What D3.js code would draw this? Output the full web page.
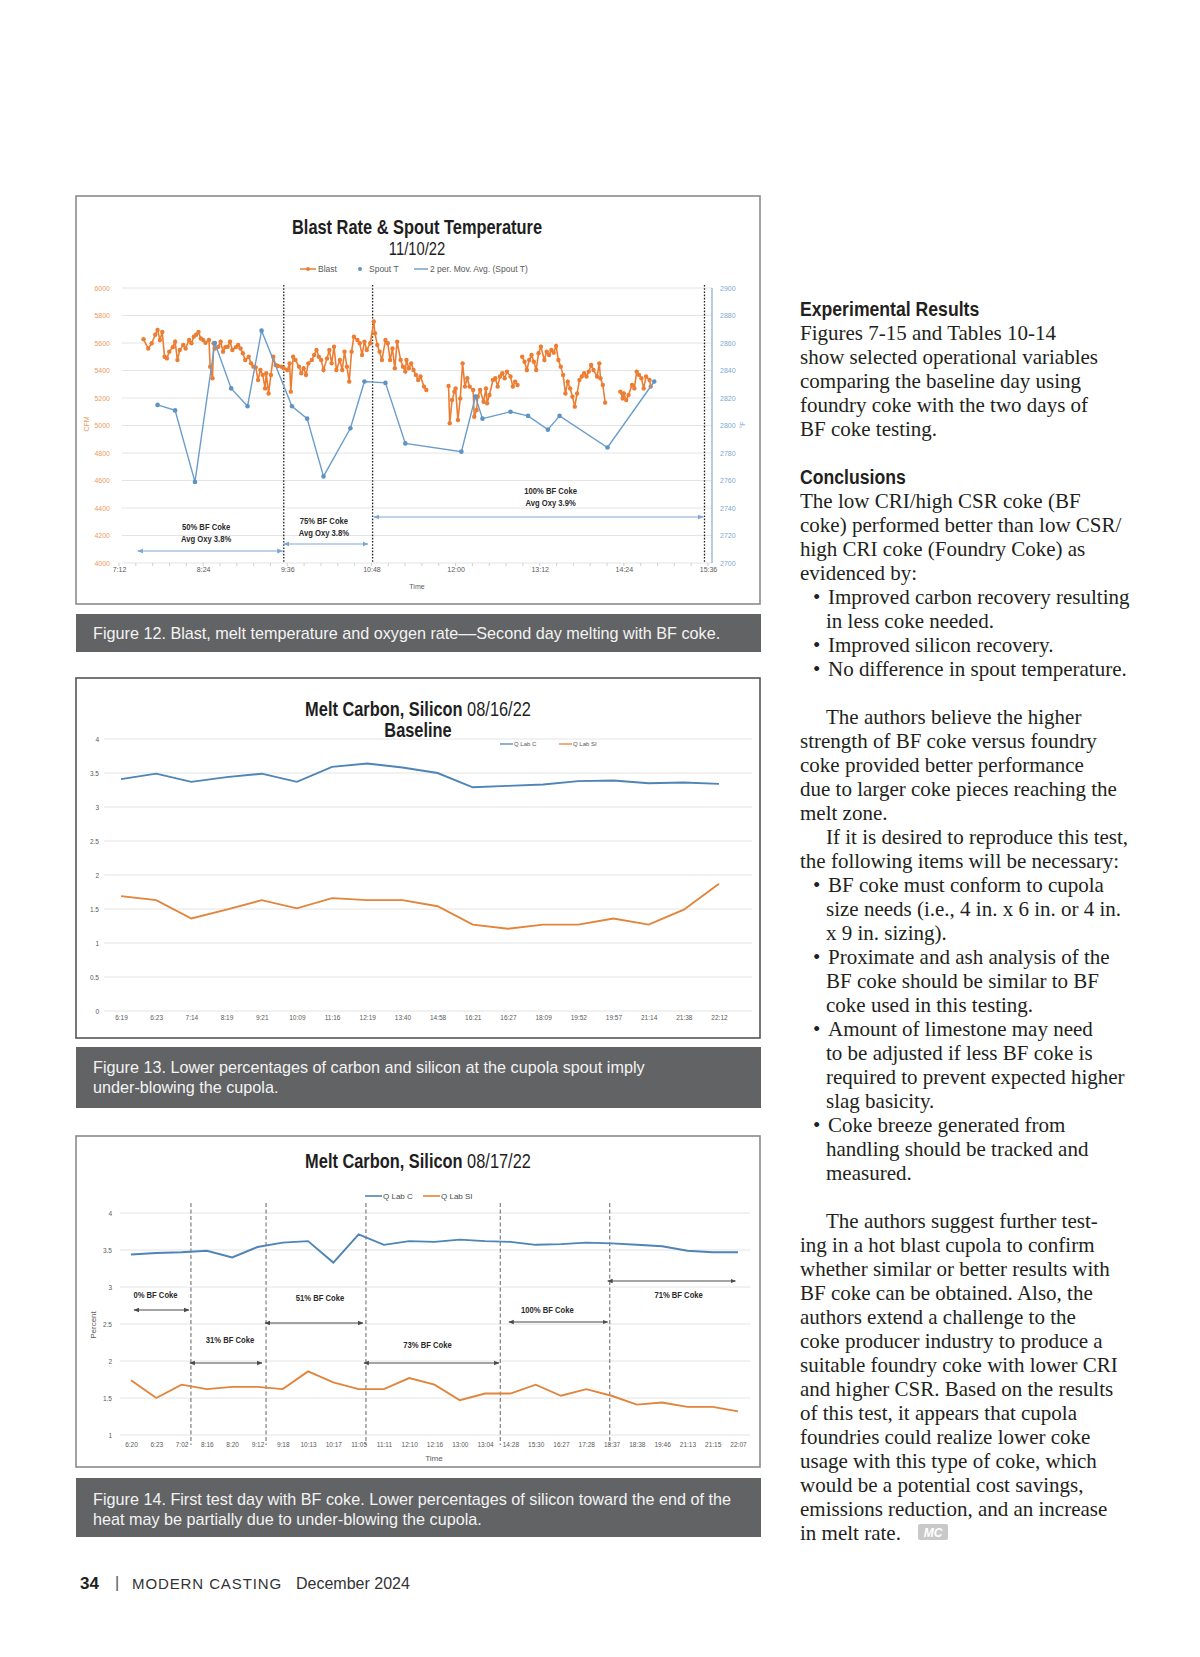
<!DOCTYPE html>
<html>
<head>
<meta charset="utf-8">
<script src="https://cdn.jsdelivr.net/npm/d3@7"></script>
<style>
  body { margin: 0; background: #fff; }
  text { font-family: "Liberation Sans", Arial, sans-serif; }
  .serif { font-family: "Liberation Serif", "Times New Roman", serif; }
</style>
</head>
<body>
<div id="page"></div>
<script>
// ---------- Figure 12 : Blast Rate & Spout Temperature 11/10/22 ----------
var blastTime = ["7:33","7:37","7:40","7:43","7:45","7:47","7:49","7:51","7:53","7:55","7:58","8:00","8:02","8:04","8:07","8:09",
  "8:12","8:14","8:16","8:18","8:20","8:22","8:24","8:26","8:29","8:30","8:32","8:33","8:34","8:37","8:39","8:41","8:43","8:45",
  "8:47","8:49","8:52","8:54","8:56","8:58","9:00","9:03","9:05","9:07","9:09","9:11","9:13","9:15","9:17","9:18","9:20","9:22",
  "9:24","9:26","9:28","9:31","9:33","9:36","9:38","9:39","9:41","9:43","9:46","9:48","9:50","9:52","9:54","9:57","9:59","10:01",
  "10:03","10:05","10:07","10:10","10:12","10:14","10:16","10:18","10:21","10:23","10:25","10:27","10:29","10:31","10:33","10:36",
  "10:38","10:40","10:42","10:44","10:47","10:50","10:51","10:53","10:55","10:57","11:00","11:02","11:04","11:06","11:08","11:10",
  "11:13","11:15","11:17","11:18","11:20","11:22","11:24","11:26","11:28","11:30","11:33","11:35","11:45",
  "11:54","11:55","11:57","11:59","12:00","12:02","12:04","12:06","12:08","12:10","12:12","12:15","12:16","12:18","12:19","12:21",
  "12:24","12:26","12:27","12:29","12:32","12:34","12:36","12:38","12:40","12:42","12:44","12:47","12:49","12:51","12:53","12:55",
  "12:57","12:59","13:01","13:03","13:05","13:07","13:09","13:11","13:13","13:16","13:18","13:20","13:22","13:24","13:26","13:28",
  "13:30","13:32","13:34","13:36","13:38","13:40","13:42","13:44","13:46","13:48","13:50","13:52","13:54","13:56","13:58","14:01",
  "14:03","14:04","14:06","14:08","14:15",
  "14:21","14:23","14:24","14:26","14:28","14:31","14:33","14:35","14:37","14:39","14:41","14:43","14:46","14:47"];
var blastCfm = [5627,5560,5598,5660,5695,5622,5680,5500,5488,5537,5570,5610,5476,5549,5585,5560,
  5622,5598,5646,5660,5680,5633,5622,5602,5622,5428,5344,5598,5560,5573,5610,5537,5570,5573,
  5610,5549,5570,5585,5560,5525,5476,5500,5452,5428,5423,5331,5404,5368,5270,5380,5233,5368,
  5500,5440,5433,5428,5416,5404,5452,5246,5500,5476,5428,5380,5416,5368,5452,5476,5513,5549,
  5500,5476,5404,5488,5549,5452,5573,5404,5476,5404,5537,5428,5319,5537,5646,5622,
  5598,5513,5610,5549,5598,5756,5671,5585,5537,5476,5622,5598,5476,5560,5416,5610,
  5476,5428,5392,5476,5416,5452,5404,5368,5331,5356,5283,5258,null,
  5287,5016,5185,5246,5270,5040,5197,5452,5283,5344,5283,5258,5064,5113,5210,5258,
  5173,5270,5161,5222,5331,5344,5283,5356,5380,5344,5392,5356,5283,5319,5295,null,
  5500,5464,5404,5476,5513,5464,5404,5525,5573,5476,5537,5513,5549,5530,5578,5476,
  5428,5368,5233,5319,5270,5210,5137,5233,5331,5356,5380,5356,5392,5440,5404,5356,
  5452,5344,5295,5166,null,
  5246,5197,5233,5185,5222,5295,5270,5392,5368,5344,5270,5356,5331,5283];
var spoutTime = ["7:45","8:00","8:17","8:34","8:48","9:02","9:14","9:40","9:53","10:07","10:30","10:42",
  "11:00","11:17","12:05","12:17","12:23","12:47","13:02","13:19","13:29","14:10","14:50"];
var spoutTemp = [2815,2811,2759,2860,2827,2814,2869,2814,2805,2763,2798,2832,
  2831,2787,2781,2821,2805,2810,2807,2797,2807,2784,2832];
var cfmTicks = [4000,4200,4400,4600,4800,5000,5200,5400,5600,5800,6000];
var tempTicks = [2700,2720,2740,2760,2780,2800,2820,2840,2860,2880,2900];
var timeTicks = ["7:12","8:24","9:36","10:48","12:00","13:12","14:24","15:36"];
var cokeChangeTimes = ["9:33","10:49","15:33"];
var blastPhaseLabel = ["50% BF Coke","75% BF Coke","100% BF Coke"];
var blastPhaseOxy = ["Avg Oxy 3.8%","Avg Oxy 3.8%","Avg Oxy 3.9%"];
var blastPhaseStart = ["7:28","9:33","10:50"];
var blastPhaseEnd = ["9:32","10:45","15:32"];

// ---------- Figure 13 : Melt Carbon, Silicon 08/16/22 Baseline ----------
var baseTimes = ["6:19","6:23","7:14","8:19","9:21","10:09","11:16","12:19","13:40","14:58","16:21","16:27","18:09","19:52","19:57","21:14","21:38","22:12"];
var baseC = [3.41,3.49,3.37,3.44,3.49,3.37,3.59,3.64,3.58,3.50,3.29,3.31,3.33,3.38,3.39,3.35,3.36,3.34];
var baseSi = [1.69,1.63,1.36,1.49,1.63,1.51,1.66,1.63,1.63,1.54,1.27,1.21,1.27,1.27,1.36,1.27,1.49,1.87];
var baseTicks = [0,0.5,1,1.5,2,2.5,3,3.5,4];

// ---------- Figure 14 : Melt Carbon, Silicon 08/17/22 ----------
var testTimes = ["6:20","6:23","7:02","8:16","8:20","9:12","9:18","10:13","10:17","11:05","11:11","12:10","12:16","13:00","13:04",
  "14:28","15:30","16:27","17:28","18:37","18:38","19:46","21:13","21:15","22:07"];
var testC = [3.44,3.46,3.47,3.49,3.40,3.54,3.60,3.62,3.33,3.71,3.57,3.62,3.61,3.64,3.62,3.61,3.57,3.58,3.60,3.59,3.57,3.55,3.49,3.47,3.47];
var testSi = [1.74,1.50,1.68,1.62,1.65,1.65,1.62,1.86,1.71,1.62,1.62,1.77,1.68,1.47,1.56,1.56,1.68,1.53,1.62,1.53,1.41,1.44,1.38,1.38,1.32];
var testTicks = [1,1.5,2,2.5,3,3.5,4];
var testChanges = [2.37,5.34,9.29,14.6,18.93];
var testPhaseLabel = ["0% BF Coke","31% BF Coke","51% BF Coke","73% BF Coke","100% BF Coke","71% BF Coke"];
var testPhaseStart = [0.12,2.33,5.3,9.21,14.94,18.85];
var testPhaseEnd = [2.29,5.18,9.17,14.55,18.85,23.9];

var orange = "#ec7e33", blue = "#5f93c4", lineBlue = "#4f84b6", lineOrange = "#e2843a";
var gridC = "#e4e4e4", tickC = "#5a5a5a";

var svg = d3.select("#page").append("svg").attr("width", 1200).attr("height", 1657);
var defs = svg.append("defs");
function addArrow(id, color) {
  defs.append("marker").attr("id", id).attr("viewBox", "0 0 10 10")
    .attr("refX", 9).attr("refY", 5).attr("markerWidth", 5).attr("markerHeight", 5)
    .attr("orient", "auto-start-reverse")
    .append("path").attr("d", "M0,1L10,5L0,9Z").attr("fill", color);
}
addArrow("arrBlue", "#7ea8cf");
addArrow("arrGrey", "#4a4a4a");

// condensed text: no narrow font installed, so squeeze Liberation Sans horizontally
function cond(parent, x, y, size, bold, anchor, str, sx) {
  var t = parent.append("text")
    .attr("transform", "translate(" + x + "," + y + ") scale(" + (sx || 0.82) + ",1)")
    .attr("text-anchor", anchor).style("font-size", size + "px");
  if (bold) t.style("font-weight", "bold");
  if (str) t.text(str);
  return t;
}

function box(y0, y1, stroke) {
  svg.append("rect").attr("x", 76).attr("y", y0).attr("width", 684).attr("height", y1 - y0)
    .attr("fill", "#fff").attr("stroke", stroke).attr("stroke-width", 1.6);
}
function caption(y0, y1, lines, ys) {
  svg.append("rect").attr("x", 76).attr("y", y0).attr("width", 685).attr("height", y1 - y0).attr("fill", "#626365");
  lines.forEach(function(t, i) {
    svg.append("text").attr("x", 93).attr("y", ys[i]).attr("fill", "#f3f3f3")
      .style("font-size", "16.2px").text(t);
  });
}
function tickStyle(g, color, size) {
  g.select(".domain").remove();
  g.selectAll("text").attr("fill", color).style("font-size", size + "px")
    .style("font-family", "Liberation Sans, Arial, sans-serif");
}

// ======================= Figure 12 =======================
box(196, 604, "#8d8d8d");
var pt = d3.timeParse("%H:%M");
var x1 = d3.scaleTime().domain([pt("7:12"), pt("15:36")]).range([119, 708]);
var yCfm = d3.scaleLinear().domain([4000, 6000]).range([563, 288]);
var yTemp = d3.scaleLinear().domain([2700, 2900]).range([563, 288]);
var c1 = svg.append("g");

cond(c1, 417, 234, 20, true, "middle", "Blast Rate & Spout Temperature").attr("fill", "#1e1e1e");
cond(c1, 417, 255, 18, false, "middle", "11/10/22").attr("fill", "#1e1e1e");

// legend
var lg1 = c1.append("g").style("font-size", "8.5px").attr("fill", "#595959");
lg1.append("line").attr("x1", 300).attr("x2", 316).attr("y1", 269).attr("y2", 269).attr("stroke", orange).attr("stroke-width", 1.5);
lg1.append("circle").attr("cx", 308).attr("cy", 269).attr("r", 2).attr("fill", orange);
lg1.append("text").attr("x", 318).attr("y", 272).text("Blast");
lg1.append("circle").attr("cx", 360).attr("cy", 269).attr("r", 2).attr("fill", blue);
lg1.append("text").attr("x", 369).attr("y", 272).text("Spout T");
lg1.append("line").attr("x1", 414).attr("x2", 428).attr("y1", 269).attr("y2", 269).attr("stroke", blue).attr("stroke-width", 1.3);
lg1.append("text").attr("x", 430).attr("y", 272).text("2 per. Mov. Avg. (Spout T)");

// grid
c1.selectAll(".grid1").data(cfmTicks).enter().append("line")
  .attr("x1", 122).attr("x2", 712).attr("y1", d => yCfm(d)).attr("y2", d => yCfm(d))
  .attr("stroke", gridC).attr("stroke-width", 1);
// minor ticks on time axis (5 per labelled interval)
var t0 = pt("7:12").getTime();
c1.selectAll(".mt").data(d3.range(0, 36)).enter().append("line")
  .attr("x1", d => x1(new Date(t0 + d * 14.4 * 60000))).attr("x2", d => x1(new Date(t0 + d * 14.4 * 60000)))
  .attr("y1", 563).attr("y2", 566).attr("stroke", "#cfcfcf");

// axes
c1.append("g").attr("transform", "translate(110,0)")
  .call(d3.axisLeft(yCfm).tickValues(cfmTicks).tickSize(0).tickPadding(0).tickFormat(d3.format("d")))
  .call(g => tickStyle(g, "#ea9c62", 7));
c1.append("g").attr("transform", "translate(720,0)")
  .call(d3.axisRight(yTemp).tickValues(tempTicks).tickSize(0).tickPadding(0).tickFormat(d3.format("d")))
  .call(g => tickStyle(g, "#7ea8cf", 7));
c1.append("line").attr("x1", 712).attr("x2", 712).attr("y1", yTemp(2900)).attr("y2", yTemp(2700))
  .attr("stroke", "#8fb4d8").attr("stroke-width", 1.3);
c1.append("g").attr("transform", "translate(0,565)")
  .call(d3.axisBottom(x1).tickValues(timeTicks.map(pt)).tickFormat(d3.timeFormat("%-H:%M")).tickSize(0).tickPadding(2))
  .call(g => tickStyle(g, tickC, 7));
c1.append("text").attr("x", 417).attr("y", 589).attr("text-anchor", "middle").style("font-size", "7px").attr("fill", tickC).text("Time");
c1.append("text").attr("transform", "translate(89,424) rotate(-90)").attr("text-anchor", "middle")
  .style("font-size", "7px").attr("fill", "#ea9c62").text("CFM");
c1.append("text").attr("transform", "translate(745,425) rotate(-90)").attr("text-anchor", "middle")
  .style("font-size", "7px").attr("fill", "#7ea8cf").text("°F");

// coke change markers
c1.selectAll(".chg").data(cokeChangeTimes).enter().append("line")
  .attr("x1", d => x1(pt(d))).attr("x2", d => x1(pt(d))).attr("y1", 285).attr("y2", 563)
  .attr("stroke", "#222").attr("stroke-width", 1.3).attr("stroke-dasharray", "1.6,1.6");

// phase arrows
var ph1ArrowY = [551, 544, 517], ph1TextY = [527, 521, 491], ph1Dx = [-4, -2, 12];
blastPhaseLabel.forEach(function(lab, i) {
  var a = x1(pt(blastPhaseStart[i])), b = x1(pt(blastPhaseEnd[i]));
  c1.append("line").attr("x1", a).attr("x2", b).attr("y1", ph1ArrowY[i]).attr("y2", ph1ArrowY[i])
    .attr("stroke", "#7ea8cf").attr("stroke-width", 1.2)
    .attr("marker-start", "url(#arrBlue)").attr("marker-end", "url(#arrBlue)");
  var cx = (a + b) / 2 + ph1Dx[i];
  cond(c1, cx, ph1TextY[i] + 3, 9, true, "middle", lab, 0.85).attr("fill", "#2b2b2b");
  cond(c1, cx, ph1TextY[i] + 15, 9, true, "middle", blastPhaseOxy[i], 0.85).attr("fill", "#2b2b2b");
});

// blast series
var blastData = blastTime.map((t, i) => ({ t: pt(t), v: blastCfm[i] }));
c1.append("path").datum(blastData)
  .attr("d", d3.line().defined(d => d.v != null).x(d => x1(d.t)).y(d => yCfm(d.v)))
  .attr("fill", "none").attr("stroke", orange).attr("stroke-width", 1.6);
c1.selectAll(".bm").data(blastData.filter(d => d.v != null)).enter().append("circle")
  .attr("cx", d => x1(d.t)).attr("cy", d => yCfm(d.v)).attr("r", 2.2).attr("fill", orange);

// spout temperature series
var spoutData = spoutTime.map((t, i) => ({ t: pt(t), v: spoutTemp[i] }));
c1.append("path").datum(spoutData)
  .attr("d", d3.line().x(d => x1(d.t)).y(d => yTemp(d.v)))
  .attr("fill", "none").attr("stroke", "#6a9dcb").attr("stroke-width", 1.4);
c1.selectAll(".sm").data(spoutData).enter().append("circle")
  .attr("cx", d => x1(d.t)).attr("cy", d => yTemp(d.v)).attr("r", 2.3).attr("fill", blue);

caption(614, 652, ["Figure 12. Blast, melt temperature and oxygen rate––Second day melting with BF coke."], [639]);

// ======================= Figure 13 =======================
box(678, 1038, "#555");
var x2 = d3.scaleLinear().domain([0, baseTimes.length - 1]).range([121, 719]);
var y2 = d3.scaleLinear().domain([0, 4]).range([1011, 739]);
var c2 = svg.append("g");
c2.selectAll(".grid2").data(baseTicks).enter().append("line")
  .attr("x1", 104).attr("x2", 752).attr("y1", d => y2(d)).attr("y2", d => y2(d)).attr("stroke", gridC);
c2.append("g").attr("transform", "translate(99,0)")
  .call(d3.axisLeft(y2).tickValues(baseTicks).tickSize(0).tickPadding(0).tickFormat(d3.format("")))
  .call(g => tickStyle(g, tickC, 6.5));
c2.append("g").attr("transform", "translate(0,1014)")
  .call(d3.axisBottom(x2).tickValues(d3.range(baseTimes.length)).tickFormat(i => baseTimes[i]).tickSize(0).tickPadding(1))
  .call(g => tickStyle(g, tickC, 6.5));

var t2 = cond(c2, 418, 716, 20, false, "middle", null).attr("fill", "#1e1e1e");
t2.append("tspan").style("font-weight", "bold").text("Melt Carbon, Silicon");
t2.append("tspan").text(" 08/16/22");
cond(c2, 418, 737, 20, true, "middle", "Baseline").attr("fill", "#1e1e1e");

var lg2 = c2.append("g").style("font-size", "6px").attr("fill", "#595959");
lg2.append("line").attr("x1", 500).attr("x2", 513).attr("y1", 744).attr("y2", 744).attr("stroke", lineBlue).attr("stroke-width", 1.3);
lg2.append("text").attr("x", 514).attr("y", 746).text("Q Lab C");
lg2.append("line").attr("x1", 559).attr("x2", 572).attr("y1", 744).attr("y2", 744).attr("stroke", lineOrange).attr("stroke-width", 1.3);
lg2.append("text").attr("x", 573).attr("y", 746).text("Q Lab SI");

var line2 = d3.line().x((d, i) => x2(i)).y(d => y2(d));
c2.append("path").datum(baseC).attr("d", line2).attr("fill", "none").attr("stroke", lineBlue).attr("stroke-width", 1.9);
c2.append("path").datum(baseSi).attr("d", line2).attr("fill", "none").attr("stroke", lineOrange).attr("stroke-width", 1.9);

caption(1047, 1108, ["Figure 13. Lower percentages of carbon and silicon at the cupola spout imply", "under-blowing the cupola."], [1073, 1093]);

// ======================= Figure 14 =======================
box(1136, 1467, "#8a8a8a");
var x3 = d3.scaleLinear().domain([0, testTimes.length - 1]).range([131, 738]);
var y3 = d3.scaleLinear().domain([1, 4]).range([1435, 1213]);
var c3 = svg.append("g");
c3.selectAll(".grid3").data(testTicks).enter().append("line")
  .attr("x1", 120).attr("x2", 750).attr("y1", d => y3(d)).attr("y2", d => y3(d)).attr("stroke", gridC);
c3.append("g").attr("transform", "translate(112,0)")
  .call(d3.axisLeft(y3).tickValues(testTicks).tickSize(0).tickPadding(0).tickFormat(d3.format("")))
  .call(g => tickStyle(g, tickC, 6.5));
c3.append("g").attr("transform", "translate(0,1441)")
  .call(d3.axisBottom(x3).tickValues(d3.range(testTimes.length)).tickFormat(i => testTimes[i]).tickSize(0).tickPadding(1))
  .call(g => tickStyle(g, tickC, 6.5));
c3.append("text").attr("x", 434).attr("y", 1461).attr("text-anchor", "middle").style("font-size", "8px").attr("fill", tickC).text("Time");
c3.append("text").attr("transform", "translate(96,1325) rotate(-90)").attr("text-anchor", "middle")
  .style("font-size", "8px").attr("fill", tickC).text("Percent");

var t3 = cond(c3, 418, 1168, 20, false, "middle", null).attr("fill", "#1e1e1e");
t3.append("tspan").style("font-weight", "bold").text("Melt Carbon, Silicon");
t3.append("tspan").text(" 08/17/22");

var lg3 = c3.append("g").style("font-size", "8px").attr("fill", "#4a4a4a");
lg3.append("line").attr("x1", 365).attr("x2", 382).attr("y1", 1196).attr("y2", 1196).attr("stroke", lineBlue).attr("stroke-width", 1.6);
lg3.append("text").attr("x", 383).attr("y", 1199).text("Q Lab C");
lg3.append("line").attr("x1", 423).attr("x2", 440).attr("y1", 1196).attr("y2", 1196).attr("stroke", lineOrange).attr("stroke-width", 1.6);
lg3.append("text").attr("x", 441).attr("y", 1199).text("Q Lab SI");

c3.selectAll(".chg3").data(testChanges).enter().append("line")
  .attr("x1", d => x3(d)).attr("x2", d => x3(d)).attr("y1", 1203).attr("y2", 1445)
  .attr("stroke", "#555").attr("stroke-width", 0.9).attr("stroke-dasharray", "4,2.5");

var ph3ArrowY = [1310, 1363, 1323, 1363, 1322, 1281], ph3TextY = [1295, 1340, 1298, 1345, 1310, 1295], ph3Dx = [-6, 4, 6, -4, -11, 7];
testPhaseLabel.forEach(function(lab, i) {
  var a = x3(testPhaseStart[i]), b = x3(testPhaseEnd[i]);
  c3.append("line").attr("x1", a).attr("x2", b).attr("y1", ph3ArrowY[i]).attr("y2", ph3ArrowY[i])
    .attr("stroke", "#4a4a4a").attr("stroke-width", 1.1)
    .attr("marker-start", "url(#arrGrey)").attr("marker-end", "url(#arrGrey)");
  cond(c3, (a + b) / 2 + ph3Dx[i], ph3TextY[i] + 3, 9, true, "middle", lab, 0.85).attr("fill", "#2b2b2b");
});

var line3 = d3.line().x((d, i) => x3(i)).y(d => y3(d));
c3.append("path").datum(testC).attr("d", line3).attr("fill", "none").attr("stroke", lineBlue).attr("stroke-width", 1.9);
c3.append("path").datum(testSi).attr("d", line3).attr("fill", "none").attr("stroke", lineOrange).attr("stroke-width", 1.9);

caption(1478, 1537, ["Figure 14. First test day with BF coke. Lower percentages of silicon toward the end of the",
  "heat may be partially due to under-blowing the cupola."], [1505, 1525]);

// ======================= article text =======================
var article = [
  ["h", "Experimental Results"],
  ["p", "Figures 7-15 and Tables 10-14"],
  ["p", "show selected operational variables"],
  ["p", "comparing the baseline day using"],
  ["p", "foundry coke with the two days of"],
  ["p", "BF coke testing."],
  ["", ""],
  ["h", "Conclusions"],
  ["p", "The low CRI/high CSR coke (BF"],
  ["p", "coke) performed better than low CSR/"],
  ["p", "high CRI coke (Foundry Coke) as"],
  ["p", "evidenced by:"],
  ["b", "Improved carbon recovery resulting"],
  ["c", "in less coke needed."],
  ["b", "Improved silicon recovery."],
  ["b", "No difference in spout temperature."],
  ["", ""],
  ["i", "The authors believe the higher"],
  ["p", "strength of BF coke versus foundry"],
  ["p", "coke provided better performance"],
  ["p", "due to larger coke pieces reaching the"],
  ["p", "melt zone."],
  ["i", "If it is desired to reproduce this test,"],
  ["p", "the following items will be necessary:"],
  ["b", "BF coke must conform to cupola"],
  ["c", "size needs (i.e., 4 in. x 6 in. or 4 in."],
  ["c", "x 9 in. sizing)."],
  ["b", "Proximate and ash analysis of the"],
  ["c", "BF coke should be similar to BF"],
  ["c", "coke used in this testing."],
  ["b", "Amount of limestone may need"],
  ["c", "to be adjusted if less BF coke is"],
  ["c", "required to prevent expected higher"],
  ["c", "slag basicity."],
  ["b", "Coke breeze generated from"],
  ["c", "handling should be tracked and"],
  ["c", "measured."],
  ["", ""],
  ["i", "The authors suggest further test-"],
  ["p", "ing in a hot blast cupola to confirm"],
  ["p", "whether similar or better results with"],
  ["p", "BF coke can be obtained. Also, the"],
  ["p", "authors extend a challenge to the"],
  ["p", "coke producer industry to produce a"],
  ["p", "suitable foundry coke with lower CRI"],
  ["p", "and higher CSR. Based on the results"],
  ["p", "of this test, it appears that cupola"],
  ["p", "foundries could realize lower coke"],
  ["p", "usage with this type of coke, which"],
  ["p", "would be a potential cost savings,"],
  ["p", "emissions reduction, and an increase"],
  ["p", "in melt rate."]
];
var col = svg.append("g").attr("fill", "#231f20");
article.forEach(function(row, i) {
  var kind = row[0], y = 309 + i * 24.0 + 7;
  if (kind === "h") {
    cond(col, 800, y, 21, true, "start", row[1], 0.84);
  } else if (kind) {
    var x = (kind === "p") ? 800 : (kind === "b" ? 828 : 826);
    if (kind === "b") col.append("text").attr("class", "serif").attr("x", 813).attr("y", y).style("font-size", "21px").text("•");
    col.append("text").attr("class", "serif").attr("x", x).attr("y", y).style("font-size", "21px").text(row[1]);
  }
});
// MC end mark
svg.append("rect").attr("x", 918).attr("y", 1524).attr("width", 30).attr("height", 16).attr("rx", 2).attr("fill", "#c9c9c9");
svg.append("text").attr("x", 933).attr("y", 1537).attr("text-anchor", "middle").style("font-size", "12px")
  .style("font-weight", "bold").style("font-style", "italic").attr("fill", "#fff").text("MC");

// footer
svg.append("text").attr("x", 80).attr("y", 1589).style("font-size", "17px").style("font-weight", "bold").attr("fill", "#231f20").text("34");
svg.append("text").attr("x", 115).attr("y", 1588).style("font-size", "16px").attr("fill", "#555").text("|");
svg.append("text").attr("x", 132).attr("y", 1589).style("font-size", "15px").style("letter-spacing", "0.9px").attr("fill", "#333").text("MODERN CASTING");
svg.append("text").attr("x", 296).attr("y", 1589).style("font-size", "16px").attr("fill", "#333").text("December 2024");
</script>
</body>
</html>
